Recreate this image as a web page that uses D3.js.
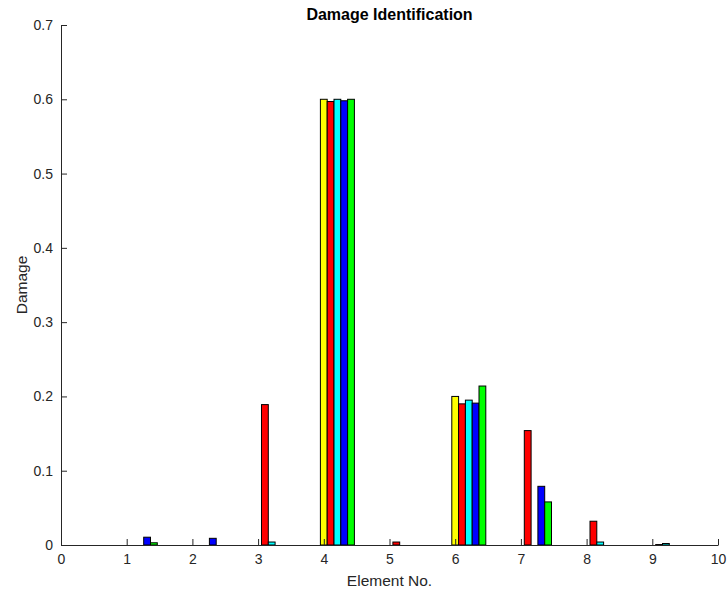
<!DOCTYPE html>
<html><head><meta charset="utf-8">
<script src="https://cdn.jsdelivr.net/npm/d3@7"></script>
<style>body{margin:0;background:#fff;} svg{display:block;font-family:"Liberation Sans",Arial,sans-serif;}</style>
</head><body>
<svg id="c" width="728" height="593"></svg>
<script>
const elements = [1,2,3,4,5,6,7,8,9];
const seriesNames = ["S1","S2","S3","S4","S5"];
const seriesColors = ["#ffff00","#ff0000","#00ffff","#0000ff","#00ff00"];
const s1 = [0,     0,     0,     0.600, 0,     0.200, 0,     0,     0];
const s2 = [0,     0,     0.189, 0.597, 0.004, 0.190, 0.154, 0.032, 0.0006];
const s3 = [0,     0,     0.004, 0.600, 0,     0.195, 0,     0.004, 0.002];
const s4 = [0.0105,0.009, 0,     0.598, 0,     0.191, 0.079, 0,     0];
const s5 = [0.003, 0,     0,     0.600, 0,     0.214, 0.058, 0,     0];
const xTicks = [0,1,2,3,4,5,6,7,8,9,10];
const yTicks = [0,0.1,0.2,0.3,0.4,0.5,0.6,0.7];
const allSeries = [s1,s2,s3,s4,s5];

const svg = d3.select("#c");
const L=61, R=718, T=25, B=545;
const x = d3.scaleLinear().domain([0,10]).range([L,R]);
const y = d3.scaleLinear().domain([0,0.7]).range([B,T]);
const bw = 0.1035;

const g = svg.append("g");
allSeries.forEach((s,i)=>{
  g.selectAll(null).data(elements.map((e,j)=>({e,v:s[j]}))).enter().append("rect")
    .attr("x", d=>x(d.e + i*bw - bw/2))
    .attr("width", d=>x(d.e + i*bw + bw/2) - x(d.e + i*bw - bw/2))
    .attr("y", d=>y(d.v))
    .attr("height", d=>Math.max(0, y(0)-y(d.v)))
    .attr("fill", seriesColors[i])
    .attr("stroke", "#000").attr("stroke-width", 1)
    .style("display", d=>d.v>0?null:"none");
});

const ax = svg.append("g").attr("transform",`translate(0,${B})`)
  .call(d3.axisBottom(x).tickValues(xTicks).tickFormat(d3.format("d")).tickSizeInner(-6).tickSizeOuter(0).tickPadding(9));
const ay = svg.append("g").attr("transform",`translate(${L},0)`)
  .call(d3.axisLeft(y).tickValues(yTicks).tickFormat(d=>d===0?"0":d3.format(".1f")(d)).tickSizeInner(-6).tickSizeOuter(0).tickPadding(8));
[ax,ay].forEach(a=>{
  a.selectAll("path").attr("stroke","#262626").attr("stroke-width",1);
  a.selectAll("line").attr("stroke","#262626");
  a.selectAll("text").attr("fill","#262626").style("font-size","14px").style("font-family","'Liberation Sans',Arial,sans-serif");
});

svg.append("text").attr("x",(L+R)/2).attr("y",20).attr("text-anchor","middle")
  .style("font-size","16px").style("font-weight","bold").attr("fill","#000").text("Damage Identification");
svg.append("text").attr("x",(L+R)/2).attr("y",586).attr("text-anchor","middle")
  .style("font-size","15.5px").attr("fill","#262626").text("Element No.");
svg.append("text").attr("transform",`translate(27,${(T+B)/2}) rotate(-90)`).attr("text-anchor","middle")
  .style("font-size","15.5px").attr("fill","#262626").text("Damage");
</script>
</body></html>
